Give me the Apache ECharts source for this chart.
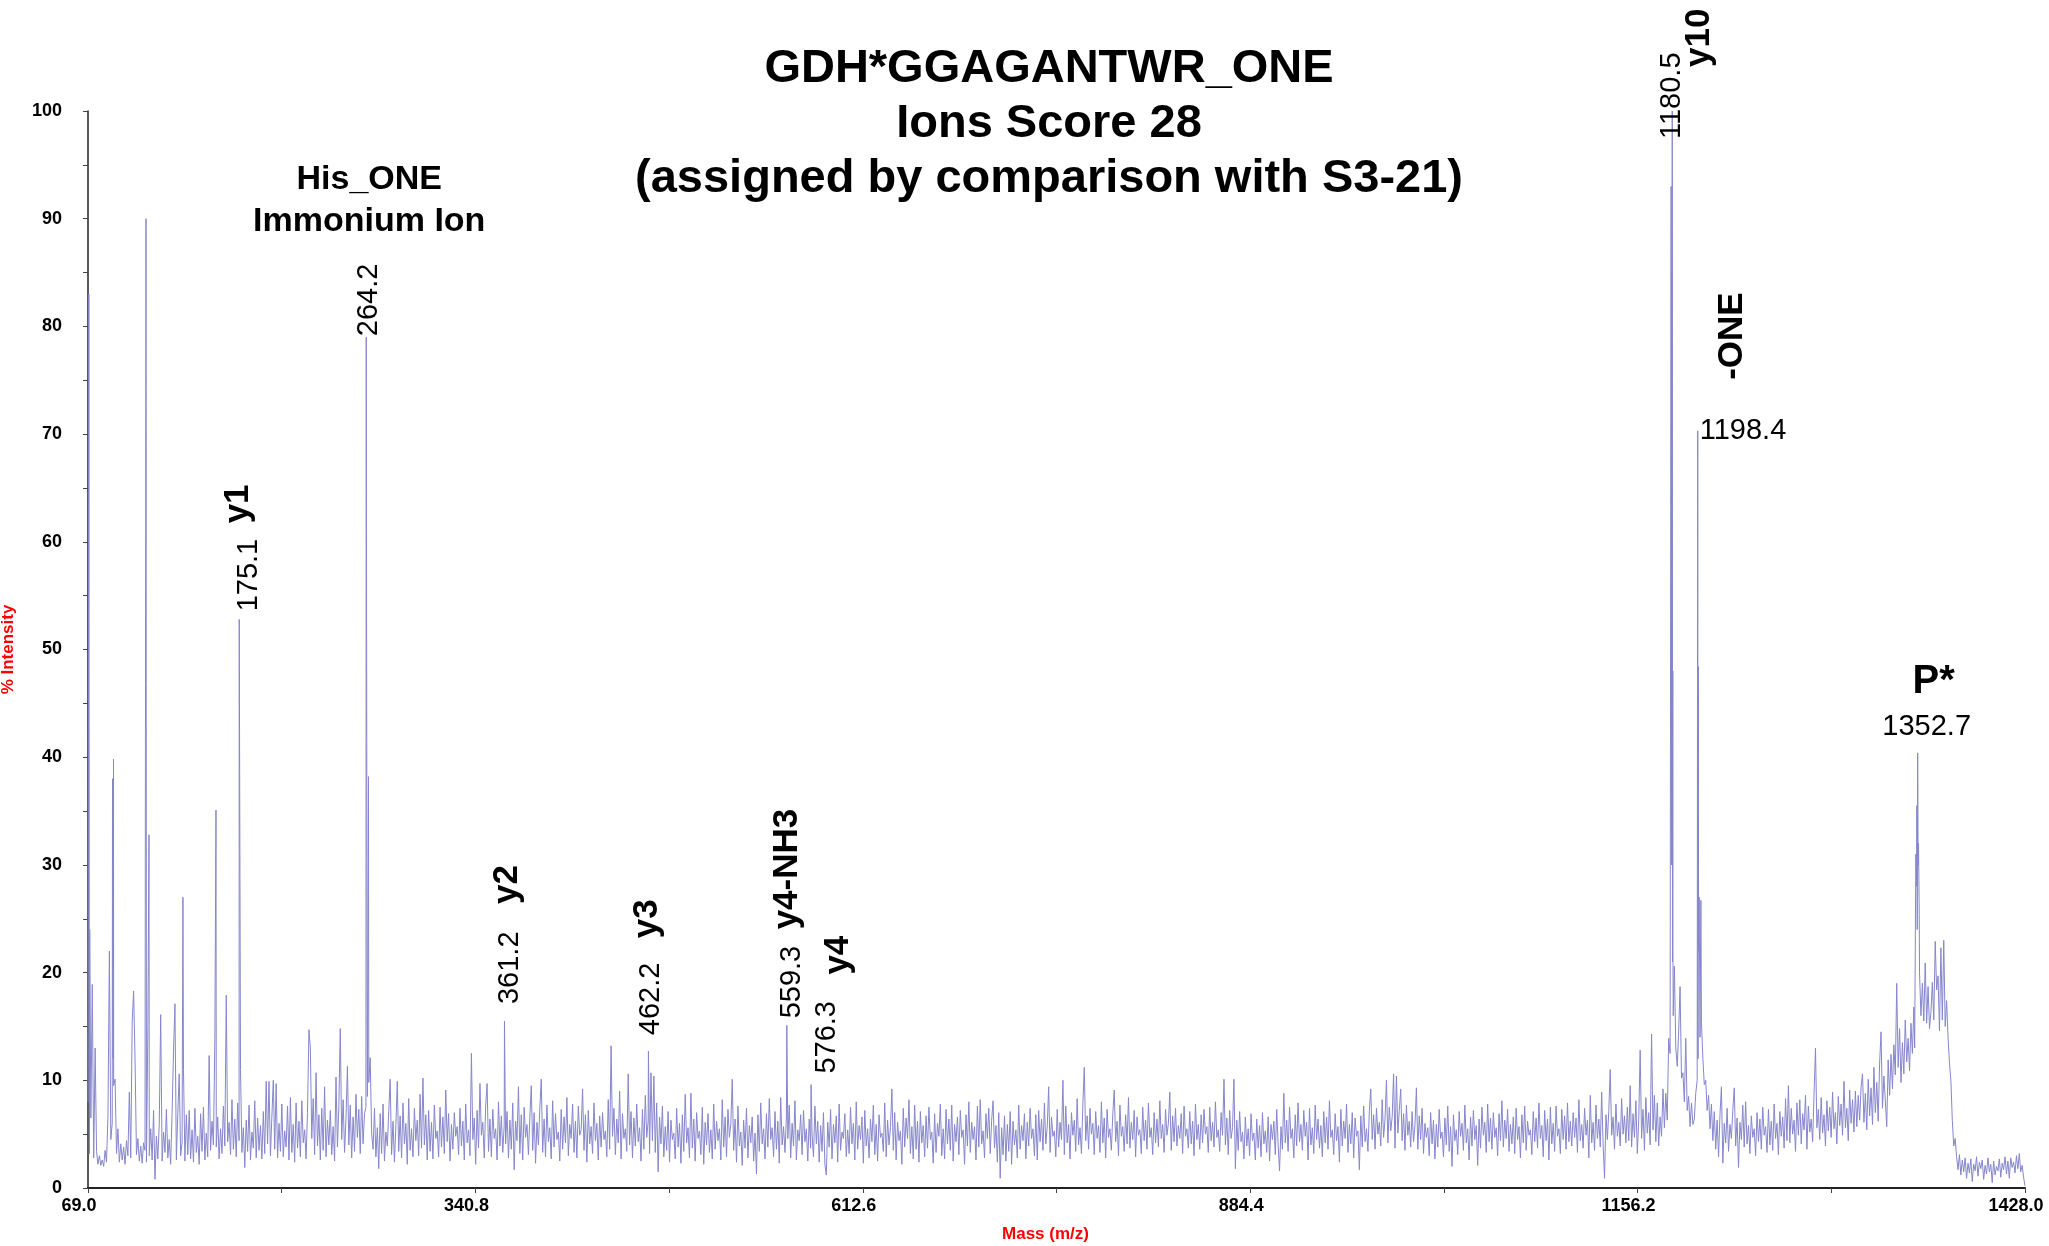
<!DOCTYPE html>
<html>
<head>
<meta charset="utf-8">
<script src="https://cdn.jsdelivr.net/npm/echarts@6/dist/echarts.min.js"></script>
<style>
  html, body { margin: 0; padding: 0; background: #ffffff; }
  #chart { width: 2049px; height: 1246px; }
</style>
</head>
<body>
<div id="chart"></div>
<script>
// ---- Spectrum data -------------------------------------------------------
// Sampled trace, one point per m/z unit starting at traceStart.
const traceStart = 69;
const traceIntensity = [
  8, 3.2, 6.5, 18.9, 2.8, 13, 3.4, 2.2, 3, 2.1, 2.6, 2, 3.5, 2.4, 6.7, 22, 4.5, 6, 9.5, 10.1,
  3.2, 5.5, 2.4, 4.1, 2.6, 3.8, 2.2, 4.4, 3, 8.9, 2.8, 15.4, 18.3, 12, 3.1, 4.6, 2.5, 3.9, 2.3, 4.2,
  3.5, 2.4, 15, 3, 5.5, 2.6, 7.2, 0.8, 4.8, 2.7, 6, 16.1, 2.5, 5.2, 3.3, 7.3, 2.8, 4.5, 2.2, 7,
  12.7, 17.1, 2.6, 6.9, 10.6, 3, 4.2, 11, 2.5, 6.8, 3.1, 7.2, 2.7, 5.4, 2.4, 7.4, 3.3, 4.8, 2.2, 6.9,
  3.4, 7.5, 2.6, 5.1, 2.9, 12.3, 3.5, 6.2, 4, 13.8, 3.8, 6.6, 2.7, 5.5, 3.2, 7.6, 3.9, 17.9, 4.3, 6.1,
  3.1, 8.2, 3.6, 6.4, 2.9, 7.9, 4.4, 11, 3.3, 5.6, 1.9, 6.3, 3.4, 7.7, 2.6, 5.2, 3.7, 8.1, 2.8, 6.5,
  3.5, 5.8, 2.7, 7.1, 3.2, 9.9, 4.1, 9.9, 3, 6.6, 10, 3.6, 9.7, 2.8, 6, 3.4, 7.8, 2.9, 5.3, 3.8,
  7.6, 2.6, 8.4, 3.3, 5.9, 2.4, 7.9, 3.7, 6.2, 2.9, 8.1, 4.2, 5.4, 2.7, 7, 14.7, 13, 4.6, 8.3, 3.1,
  10.7, 3.9, 6.8, 2.6, 7.4, 3.5, 9.4, 2.9, 6.3, 4, 7.2, 3.1, 5.7, 2.5, 10.3, 3.8, 7.6, 14.8, 4.5, 8.2,
  3.3, 6.4, 11.3, 4, 7.7, 2.8, 6.6, 3.4, 8.7, 4.7, 7.3, 3.2, 8.5, 4.1, 6.9, 7.5, 8.5, 9.8, 12.1, 5.1,
  3.6, 7.4, 2.9, 5.6, 1.8, 6.9, 3.2, 7.8, 2.5, 5.2, 3.9, 7.1, 10.1, 3.1, 6.2, 2.4, 5.8, 9.9, 3.4, 6.7,
  2.8, 7.9, 4.1, 6, 2.2, 8.3, 3.5, 5.5, 2.9, 7.4, 4.4, 6.3, 3, 8.7, 3.7, 10.2, 4, 6.8, 2.6, 7.2,
  3.4, 6.1, 2.7, 7.7, 4.6, 5.3, 2.9, 7.5, 3.8, 6.6, 3.2, 9.1, 4.3, 6.9, 2.5, 5.9, 3.6, 7, 4.8, 5.7,
  3.1, 7.4, 3.9, 6.2, 2.6, 7.8, 4.2, 5.4, 3, 12.5, 4.5, 6.5, 2.2, 7.2, 3.7, 9.7, 4.9, 6.1, 2.8, 7.6,
  9.7, 3.4, 6.4, 2.9, 7.3, 4.6, 5.5, 2.6, 8, 3.9, 6.7, 3.3, 5.8, 4.1, 7.1, 2.8, 6.3, 3.6, 7.9, 1.7,
  6.2, 4.4, 9.4, 3.2, 6.8, 2.6, 7.5, 4.7, 5.9, 3.1, 6.6, 9.5, 3.5, 7, 2.3, 6.1, 4, 7.4, 10.1, 3.3,
  6.4, 2.9, 7.7, 4.3, 5.6, 2.7, 8.1, 3.8, 6.9, 4.5, 5.2, 2.5, 7.3, 3.6, 6.6, 4.2, 8.4, 3, 5.9, 4.6,
  7.8, 3.3, 6.2, 2.8, 7.6, 4.9, 5.4, 9.2, 3.5, 6.8, 2.4, 7.2, 4.1, 5.7, 3.2, 7.9, 4.4, 6, 2.6, 6.7,
  3.8, 7, 4.5, 5.3, 2.9, 8.2, 3.6, 13.2, 4.8, 7.4, 3.1, 6.4, 4.2, 9, 2.7, 6.9, 4.6, 5.5, 3.4, 10.6,
  4, 7.1, 2.8, 6.5, 3.9, 7.8, 4.3, 5.6, 2.5, 7.3, 3.6, 8.6, 4.7, 6.2, 3.2, 10.7, 4.4, 10.4, 3.3, 7.9,
  1.5, 6.6, 4.1, 7.6, 2.9, 5.7, 3.5, 7.1, 2.4, 6.3, 4.5, 5.1, 2.7, 7.4, 3.8, 6, 2.3, 6.8, 3.4, 8.7,
  4.2, 5.6, 2.8, 8.8, 3.7, 6.4, 2.5, 7, 4.6, 5.3, 3.1, 7.5, 2.2, 6.1, 4, 6.9, 3.3, 5.4, 2.7, 7.8,
  3.6, 6.2, 4.4, 5.5, 2.6, 8.2, 3.8, 6.6, 2.9, 7.3, 4.7, 5.9, 10.1, 3.5, 6.4, 2.4, 7.6, 3.9, 5.2, 2.1,
  6.3, 3.7, 7.4, 2.8, 5.8, 4.2, 6.6, 2.5, 5.1, 1.3, 6.8, 3.4, 7.9, 4.1, 5.5, 2.7, 6.9, 3.8, 8.3, 4.5,
  5.6, 2.9, 7.1, 3.6, 6.2, 2.3, 8.4, 4, 5.7, 3.3, 6.5, 4.6, 7.7, 2.8, 6, 3.9, 8.1, 2.6, 5.4, 4.4,
  6.8, 3.1, 7.2, 4.3, 5.5, 2.5, 6.4, 3.7, 5, 2.9, 7.6, 4.1, 6.2, 2.4, 5.8, 3.4, 7, 2.2, 1.2, 6.1,
  3.8, 7.3, 2.7, 5.9, 4.2, 6.7, 2.4, 7.8, 3.5, 5.2, 4.6, 6.9, 2.9, 5.4, 3.2, 7.5, 4.1, 6, 2.6, 8,
  3.6, 5.8, 4.5, 6.6, 2.3, 7.2, 3.9, 5.5, 2.8, 6.4, 4.3, 7.7, 3.1, 5.9, 2.5, 6.8, 4.7, 5.1, 3.4, 7.9,
  2.9, 6.3, 4, 5.6, 9.2, 3.5, 7, 2.6, 6.1, 4.4, 5.3, 2.2, 7.4, 3.8, 6.5, 4.6, 8.2, 3.2, 5.7, 2.7,
  7.7, 3.6, 6.2, 2.4, 7.1, 4.2, 5.8, 2.9, 6.7, 3.7, 7.5, 4.5, 5.2, 2.3, 6.9, 3.3, 6, 4.8, 7.8, 3,
  5.5, 2.7, 7.3, 4.1, 6.4, 3.5, 7.7, 2.5, 5.9, 4.3, 6.6, 3.1, 7.2, 4.7, 5.4, 2.2, 6.8, 3.9, 8, 3.3,
  6.1, 4.5, 5.7, 2.6, 7.6, 3.8, 8.2, 4.1, 5.3, 2.8, 6.9, 4.6, 7.4, 3.2, 6.3, 8.1, 3.7, 5.8, 2.4, 7,
  0.9, 5.6, 3.1, 6.7, 2.5, 5.9, 3.4, 7.1, 2.2, 6.2, 4, 5.4, 2.8, 7.7, 3.6, 5.8, 4.4, 6.9, 2.7, 6.1,
  3.9, 7.4, 4.6, 5.5, 3, 6.8, 2.6, 7.2, 4.3, 6.4, 3.5, 7.9, 4.1, 5.7, 9.4, 3.3, 6.6, 4.8, 5.3, 2.9,
  7.3, 3.8, 6.1, 4.5, 10, 3.1, 7.6, 4.2, 5.9, 2.7, 7, 4.9, 6.3, 3.4, 8.3, 4, 5.6, 3.2, 7.8, 11.2,
  4.4, 6.7, 3.6, 7.4, 5, 6, 3.1, 7.1, 4.6, 5.8, 3.3, 8, 4.2, 6.5, 2.8, 7.3, 4.7, 5.5, 3.5, 6.9,
  9.1, 4.3, 6.2, 3, 7.7, 4.8, 5.7, 3.4, 6.8, 4.1, 8.4, 3.7, 6.1, 4.5, 7.2, 2.9, 6.6, 4.9, 5.4, 3.2,
  7.5, 4.4, 6.3, 3.6, 7.9, 4.7, 5.6, 3.1, 7, 4.2, 6.4, 3.8, 8.1, 4.6, 5.9, 3.3, 7.3, 4.9, 6, 8.9,
  3.5, 6.7, 4.3, 7.4, 3.9, 5.8, 4.6, 6.9, 3.2, 7.6, 4.8, 5.5, 3.7, 7.1, 4.1, 6.2, 3, 7.8, 4.5, 5.9,
  3.6, 6.8, 4.2, 7.3, 5, 5.7, 3.3, 7.5, 4.4, 6.1, 3.8, 8, 4.7, 5.4, 3.4, 7, 4.9, 10.1, 4, 6.5,
  3.1, 7.2, 4.6, 5.6, 10.1, 1.8, 6.3, 3.5, 7.1, 4.3, 5.2, 2.7, 6.6, 3.9, 5.5, 3, 6.9, 4.4, 5.1, 2.6,
  6.4, 3.7, 5.8, 2.9, 7, 4.1, 5.3, 3.3, 6.6, 2.5, 5.9, 4.5, 6.2, 3.1, 7.3, 4, 1.6, 5.7, 3.6, 8.8,
  4.2, 6.3, 3.4, 7.5, 4.6, 5.5, 2.8, 6.8, 3.9, 7.9, 4.3, 5.9, 3.5, 7.2, 4.8, 6.1, 2.6, 7.4, 4, 5.6,
  3.2, 7.7, 4.5, 6.4, 3.7, 5.8, 2.9, 7.1, 4.2, 6.6, 3.6, 8.1, 4.7, 5.4, 3.1, 6.9, 4.4, 5.7, 2.4, 7.3,
  3.9, 6.2, 4.6, 7.8, 3.3, 5.9, 4.1, 7, 2.8, 6.5, 4.8, 5.3, 1.7, 6.7, 3.8, 7.6, 4.3, 5.5, 3.4, 7.2,
  9.2, 4.5, 6.8, 3.6, 7.4, 5, 6.1, 3.9, 8.2, 4.7, 6.4, 10, 4.2, 7.5, 5.3, 6.6, 10.6, 3.7, 10.4, 5.1,
  7.2, 9.2, 4.4, 6.9, 3.5, 7.7, 4.9, 6.2, 3.8, 7.1, 4.3, 5.8, 9.3, 3.6, 6.7, 4.5, 7.4, 3.2, 6, 4.7,
  5.6, 3, 7, 4.1, 6.3, 2.7, 5.9, 3.8, 7.3, 4.6, 5.2, 2.9, 6.5, 4, 7.6, 3.4, 5.7, 2, 6.8, 4.4,
  5.4, 3.1, 7.1, 4.8, 6, 3.5, 7.7, 4.2, 5.5, 2.6, 6.6, 3.9, 7.2, 4.5, 5.8, 2.1, 6.4, 3.7, 7.5, 4.9,
  6.1, 3.3, 7.8, 4.3, 6.5, 3.6, 7, 4.7, 5.6, 3, 6.9, 4.4, 8.1, 3.8, 6.3, 4.6, 7.3, 3.4, 5.9, 4.1,
  6.6, 3.2, 7.4, 4.5, 5.7, 2.8, 6.8, 4.2, 7.6, 3.5, 6.2, 4.9, 5.4, 3.1, 7.1, 4.3, 6.5, 3.7, 7.9, 4.6,
  5.8, 2.9, 7.2, 4.4, 6.4, 2.6, 7.5, 4.1, 6, 3.4, 7.6, 4.8, 5.5, 3.2, 7.3, 4.5, 6.7, 3.6, 7.9, 4.3,
  6.2, 3.9, 7, 4.7, 6.5, 3.3, 8.2, 4.4, 5.9, 3.7, 7.4, 4.9, 6.3, 2.8, 8.6, 4.2, 6.1, 3.5, 7.7, 4.6,
  6.4, 3.8, 8.9, 4.1, 0.9, 6.8, 4.5, 7.2, 11, 4.9, 6.6, 3.6, 7.8, 4.8, 6.1, 3.9, 8.3, 5, 6.7, 4.2,
  7.5, 4.4, 9.5, 3.8, 6.9, 4.7, 8.1, 3.2, 6.4, 12.8, 4.6, 7.3, 3.5, 8.4, 5.1, 7, 4, 14.3, 5.4, 8.6,
  4.3, 7.9, 3.9, 6.6, 4.8, 9.2, 5.6, 8.8, 6.3, 13.9, 12.5, 30, 22, 20.6, 13, 11.3, 14.5, 18.7, 10.2, 10.7,
  8, 13.9, 7.2, 8.5, 5.7, 7.9, 5.9, 6.4, 8.8, 10, 22, 14, 15.3, 12, 9.6, 10, 7.2, 8.6, 5.5, 7.8,
  4.4, 7.1, 3.6, 6.3, 2.9, 6.8, 9.4, 2.3, 6, 4.2, 7.4, 3.4, 5.9, 4.6, 7.2, 9.3, 3.9, 6.5, 1.9, 6.1,
  4.5, 7.7, 3.8, 8, 4.1, 5.8, 3.2, 6.7, 4.7, 5.5, 3, 7, 4.3, 6.4, 3.6, 7.5, 4.9, 5.7, 3.3, 7.3,
  4, 6.2, 3.5, 7.8, 4.6, 6, 3.1, 7.1, 4.8, 6.6, 3.7, 8.3, 4.4, 9.5, 4.2, 7.4, 5, 6.3, 3.4, 7.9,
  4.9, 8.2, 4.1, 6.9, 5.4, 8.6, 3.6, 7.6, 5.2, 6.4, 4.3, 8.8, 13, 5.6, 7.3, 4.5, 8.4, 5.1, 6.8, 3.9,
  8.1, 5.3, 7.5, 4.7, 8.9, 5.5, 7, 4.1, 8.5, 5.8, 7.8, 4.9, 9.9, 5.6, 7.4, 4.4, 9.1, 6, 8.2, 5.2,
  9, 5.7, 8.6, 6.3, 9.4, 10.6, 6.1, 8.8, 5.4, 10.1, 6.7, 9.3, 5.9, 11.2, 7, 9.8, 6.2, 11.6, 14.5, 7.4,
  10.4, 8.1, 5.7, 11.9, 8.6, 12.4, 9.2, 13.3, 10.5, 19, 11.2, 14.8, 9.8, 13.5, 10.6, 15.6, 11.7, 13.9, 10.9, 15.3,
  12.5, 16.8, 22, 28, 30, 20, 16, 19, 15.5, 20.9, 15.3, 18.7, 14.8, 16.3, 19.1, 15.6, 22.9, 18.4, 19.7, 14.6,
  22.3, 15.6, 23, 15, 17.4, 14, 11.6, 10, 6.3, 3.9, 4.6, 2.9, 1.7, 3.1, 1.2, 2.6, 1.5, 2.8, 0.9, 2.3,
  1.4, 2.7, 0.6, 2.2, 1.6, 2.9, 1.1, 2.4, 1.8, 2.6, 0.8, 2.1, 1.3, 2.8, 1.5, 2.2, 0.5, 2.5, 1.2, 2,
  1.6, 2.7, 1, 2.3, 1.7, 2.9, 1.3, 2.5, 0.9, 2.8, 1.9, 2.4, 1.4, 3, 1.8, 3.2, 1.5, 2.1, 1, 0.2
];

// Centroid peaks and dips between the sampled points: [m/z, % intensity]
const sharpPeaks = [
  [69.6, 83], [70.2, 24], [86.2, 38], [86.55, 12], [86.9, 39.8], [109.7, 90], [111.8, 32.8],
  [135.6, 27], [158.8, 35.1], [264.8, 19.5], [265.8, 38.2],
  [1179.7, 93], [1180.2, 85], [1180.35, 36], [1180.7, 21], [1180.9, 48], [1181.2, 16],
  [1198.6, 12], [1198.8, 48.4], [1199.4, 27], [1200.6, 26.7],
  [1350.6, 13], [1351.4, 31], [1352.1, 35.5], [1352.4, 24], [1353.3, 32], [1353.8, 25.4]
];

// Assigned fragment ions
const ionMz = [175.1, 264.2, 361.2, 462.2, 559.3, 576.3, 1180.5, 1198.4, 1352.7];
const ionIntensity = [52.8, 79.0, 15.5, 12.7, 15.1, 9.6, 100, 70.3, 40.4];
const ionName = ['y1', '', 'y2', 'y3', 'y4-NH3', 'y4', 'y10', '-ONE', 'P*'];
const immoniumNote = ['His_ONE', 'Immonium Ion'];

// Axis ticks
const massTickLabels = [69.0, 340.8, 612.6, 884.4, 1156.2, 1428.0];
const massTickMarks = [69.0, 204.9, 340.8, 476.7, 612.6, 748.5, 884.4, 1020.3, 1156.2, 1292.1, 1428.0];

const titleLines = ['GDH*GGAGANTWR_ONE', 'Ions Score 28', '(assigned by comparison with S3-21)'];

// ---- Build the plotted trace ---------------------------------------------
const spectrum = traceIntensity.map((v, i) => [traceStart + i, v])
  .concat(sharpPeaks)
  .concat(ionMz.map((m, i) => [m, ionIntensity[i]]))
  .sort((a, b) => a[0] - b[0]);

// ---- Label placement (pixel offsets from each peak apex) ------------------
// rot: vertical text reading upward; otherwise horizontal with the given align
const numberPlacement = [
  { dx: 10, dy: -8, rot: true }, { dx: 3, dy: -1, rot: true }, { dx: 6, dy: -17, rot: true },
  { dx: 3, dy: -16, rot: true }, { dx: 5, dy: -7, rot: true }, { dx: 16, dy: -11, rot: true },
  { dx: 0, dy: 28, rot: true }, { dx: 2, dy: 0, rot: false, align: 'left' },
  { dx: 9, dy: -26, rot: false, align: 'center' }
];
const ionPlacement = [
  { dx: -1, dy: -96, rot: true }, null, { dx: 3, dy: -117, rot: true },
  { dx: -1, dy: -113, rot: true }, { dx: 1, dy: -96, rot: true }, { dx: 27, dy: -110, rot: true },
  { dx: 27, dy: -44, rot: true }, { dx: 35, dy: -51, rot: true },
  { dx: 16, dy: -71, rot: false, align: 'center', size: 40 }
];

const FONT = '"Liberation Sans", Arial, Helvetica, sans-serif';
const traceColor = '#8686cc';

const chart = echarts.init(document.getElementById('chart'), null, { renderer: 'canvas' });

chart.setOption({
  animation: false,
  backgroundColor: '#ffffff',
  title: {
    text: titleLines.join('\n'),
    left: 1044,
    top: 37,
    textAlign: 'center',
    textStyle: { fontFamily: FONT, fontWeight: 'bold', fontSize: 47, lineHeight: 55, color: '#000' }
  },
  grid: { left: 88, right: 24, top: 111, bottom: 58, outerBoundsMode: 'none', containLabel: false },
  xAxis: {
    type: 'value',
    min: 69,
    max: 1428,
    name: 'Mass (m/z)',
    nameLocation: 'middle',
    nameGap: 38,
    nameTextStyle: { color: '#ff0000', fontFamily: FONT, fontWeight: 'bold', fontSize: 17, padding: [0, 22, 0, 0] },
    axisLine: { lineStyle: { color: '#222', width: 2 } },
    axisTick: { show: true, customValues: massTickMarks, length: 5, lineStyle: { color: '#444', width: 1 } },
    axisLabel: {
      customValues: massTickLabels,
      formatter: (v) => Number(v).toFixed(1),
      margin: 9,
      padding: [0, 18, 0, 0],
      color: '#000',
      fontFamily: FONT,
      fontWeight: 'bold',
      fontSize: 18
    },
    splitLine: { show: false }
  },
  yAxis: {
    type: 'value',
    min: 0,
    max: 100,
    interval: 10,
    name: '% Intensity',
    nameLocation: 'middle',
    nameGap: 71,
    nameTextStyle: { color: '#ff0000', fontFamily: FONT, fontWeight: 'bold', fontSize: 17 },
    axisLine: { show: true, lineStyle: { color: '#222', width: 1.5 } },
    axisTick: { show: true, length: 5, lineStyle: { color: '#444', width: 1 } },
    minorTick: { show: true, splitNumber: 2, length: 5, lineStyle: { color: '#444', width: 1 } },
    axisLabel: { margin: 26, color: '#000', fontFamily: FONT, fontWeight: 'bold', fontSize: 18 },
    splitLine: { show: false }
  },
  series: [{
    name: 'spectrum',
    type: 'line',
    data: spectrum,
    showSymbol: false,
    symbol: 'none',
    silent: true,
    clip: true,
    lineStyle: { color: traceColor, width: 1 },
    z: 2
  }]
});

// ---- Peak annotations, positioned through the axis scales -----------------
const texts = [];
ionMz.forEach((m, i) => {
  const p = chart.convertToPixel({ gridIndex: 0 }, [m, ionIntensity[i]]);
  const np = numberPlacement[i];
  texts.push({
    type: 'text', silent: true, z: 10,
    x: p[0] + np.dx, y: p[1] + np.dy,
    rotation: np.rot ? Math.PI / 2 : 0,
    style: {
      text: m.toFixed(1), fill: '#000', font: '29px ' + FONT,
      align: np.rot ? 'left' : np.align, verticalAlign: 'middle'
    }
  });
  const ip = ionPlacement[i];
  if (ip && ionName[i]) {
    texts.push({
      type: 'text', silent: true, z: 10,
      x: p[0] + ip.dx, y: p[1] + ip.dy,
      rotation: ip.rot ? Math.PI / 2 : 0,
      style: {
        text: ionName[i], fill: '#000', font: 'bold ' + (ip.size || 35) + 'px ' + FONT,
        align: ip.rot ? 'left' : ip.align, verticalAlign: 'middle'
      }
    });
  }
});

// immonium ion note above the 264.2 peak
const imm = chart.convertToPixel({ gridIndex: 0 }, [ionMz[1], ionIntensity[1]]);
texts.push({
  type: 'text', silent: true, z: 10,
  x: imm[0] + 3, y: imm[1] - 137,
  style: {
    text: immoniumNote.join('\n'), fill: '#000', font: 'bold 34px ' + FONT,
    lineHeight: 42, align: 'center', verticalAlign: 'middle'
  }
});

chart.setOption({ graphic: texts });
</script>
</body>
</html>
